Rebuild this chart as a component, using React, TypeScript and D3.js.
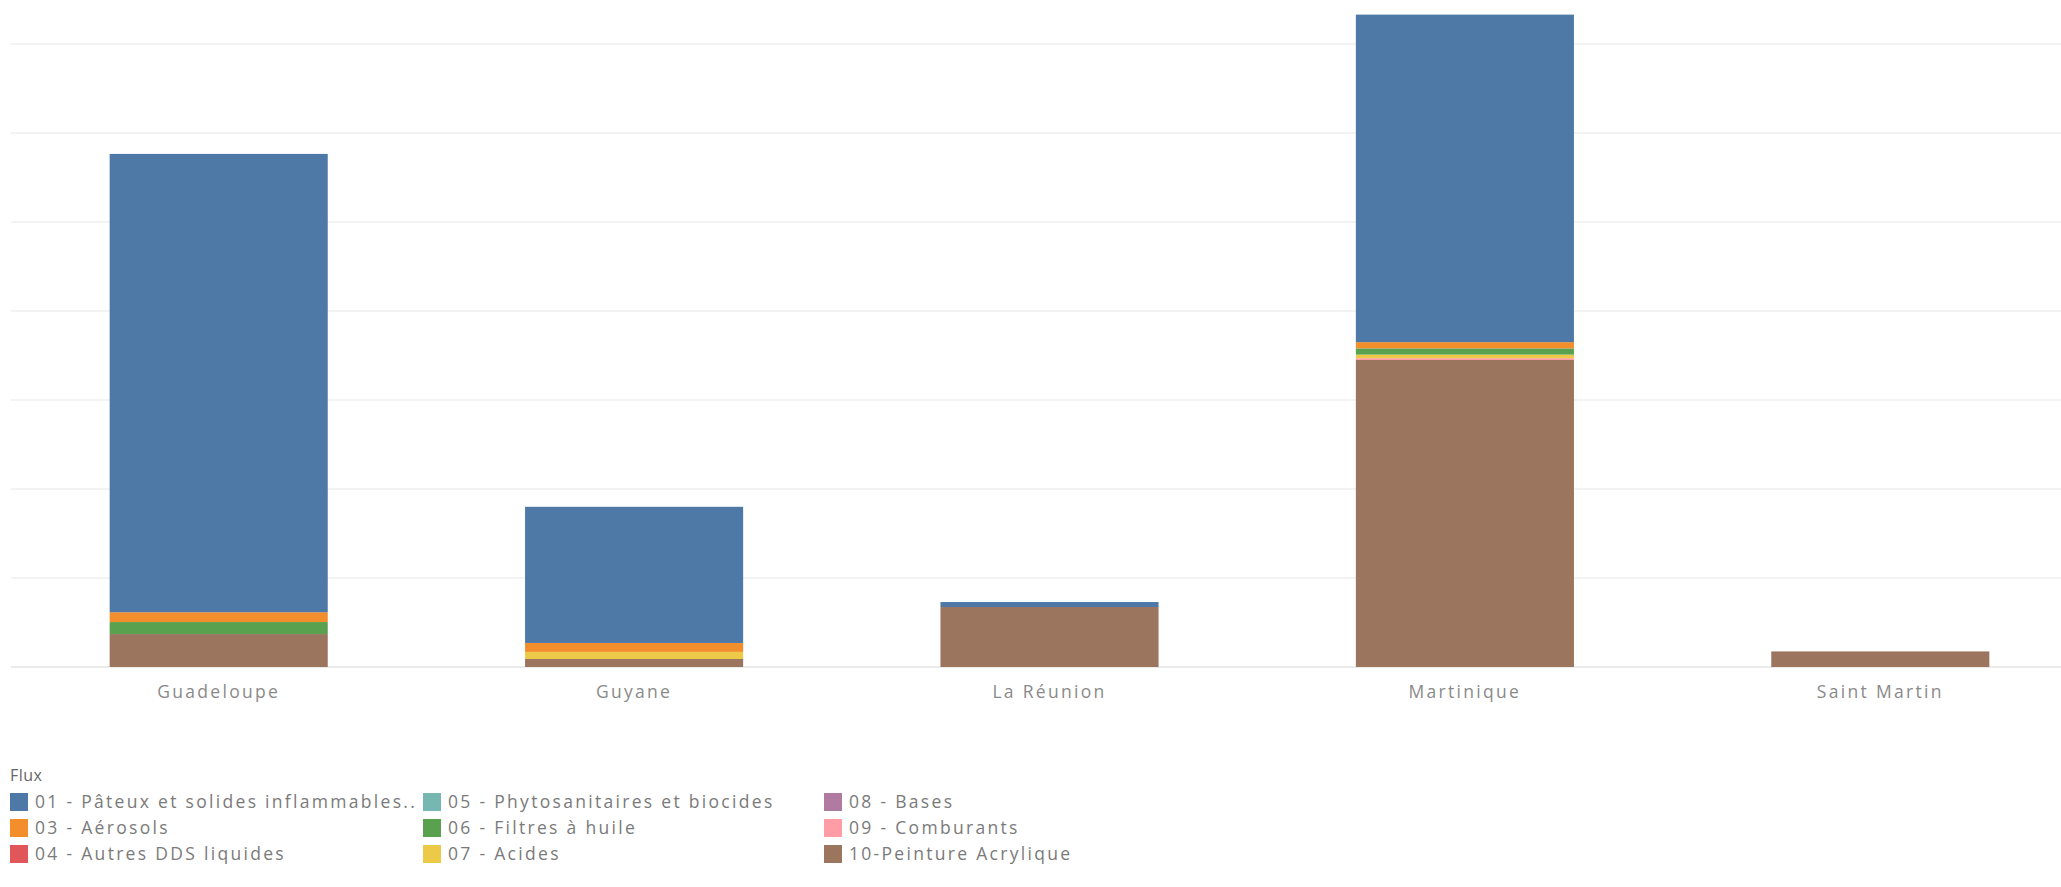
import React from "react";
import * as d3 from "d3";

const categories = ["Guadeloupe", "Guyane", "La Réunion", "Martinique", "Saint Martin"];

const fluxKeys = ["01", "03", "04", "05", "06", "07", "08", "09", "10"];
const fluxLabels = [
  "01 - Pâteux et solides inflammables..",
  "03 - Aérosols",
  "04 - Autres DDS liquides",
  "05 - Phytosanitaires et biocides",
  "06 - Filtres à huile",
  "07 - Acides",
  "08 - Bases",
  "09 - Comburants",
  "10-Peinture Acrylique",
];
const fluxColors = ["#4e79a7", "#f28e2b", "#e15759", "#76b7b2", "#59a14f", "#edc948", "#b07aa1", "#ff9da7", "#9c755f"];

// values per category (Guadeloupe, Guyane, La Réunion, Martinique, Saint Martin)
const flux01 = [5.15, 1.53, 0.056, 3.68, 0];
const flux03 = [0.11, 0.1, 0, 0.07, 0];
const flux04 = [0, 0, 0, 0, 0];
const flux05 = [0, 0, 0, 0, 0];
const flux06 = [0.135, 0, 0, 0.07, 0];
const flux07 = [0, 0.08, 0, 0.04, 0];
const flux08 = [0, 0, 0, 0, 0];
const flux09 = [0, 0, 0, 0.02, 0];
const flux10 = [0.37, 0.09, 0.674, 3.45, 0.175];

const gridTicks = [0, 1, 2, 3, 4, 5, 6, 7];

const seriesValues: Record<string, number[]> = {
  "01": flux01, "03": flux03, "04": flux04, "05": flux05, "06": flux06,
  "07": flux07, "08": flux08, "09": flux09, "10": flux10,
};

export default function App() {
  const W = 2061, H = 887;
  const baseY = 667;
  const unit = 89;
  const x = d3.scaleBand<string>().domain(categories).range([11, 11 + 5 * 415.4]).paddingInner(0.475).paddingOuter(0.2375);
  const y = d3.scaleLinear().domain([0, baseY / unit]).range([baseY, 0]);

  const table = categories.map((c, i) => {
    const row: any = { cat: c };
    fluxKeys.forEach((k) => (row[k] = seriesValues[k][i]));
    return row;
  });
  const stackOrder = [...fluxKeys].reverse();
  const stacked = d3.stack<any>().keys(stackOrder)(table);
  const colorOf = (k: string) => fluxColors[fluxKeys.indexOf(k)];

  const legendCols = [10, 423, 824];
  const legendRows = [802, 828, 854];

  return (
    <svg width={W} height={H} style={{ position: "absolute", left: 0, top: 0, background: "#fff" }}
      fontFamily="'Open Sans', Lato, sans-serif">
      {gridTicks.map((t) => (
        <line key={t} x1={11} x2={W} y1={y(t)} y2={y(t)} stroke={t === 0 ? "#e4e4e4" : "#efefef"} strokeWidth={1.5} />
      ))}
      {stacked.map((s) => (
        <g key={s.key} fill={colorOf(s.key)}>
          {s.map((d, i) => {
            const h = y(d[0]) - y(d[1]);
            if (h <= 0) return null;
            return <rect key={i} x={x(categories[i])} width={x.bandwidth()} y={y(d[1])} height={h} />;
          })}
        </g>
      ))}
      {categories.map((c) => (
        <text key={c} x={(x(c) as number) + x.bandwidth() / 2} y={698} textAnchor="middle" fontSize={17.5} fill="#8a8a8a" letterSpacing={2.3}>
          {c}
        </text>
      ))}
      <text x={10} y={781} fontSize={16} fill="#666" letterSpacing={0.5}>Flux</text>
      {fluxKeys.map((k, i) => {
        const col = Math.floor(i / 3), row = i % 3;
        const lx = legendCols[col], ly = legendRows[row];
        return (
          <g key={k}>
            <rect x={lx} y={ly - 9} width={18} height={18} fill={fluxColors[i]} />
            <text x={lx + 25} y={ly + 6} fontSize={17.5} fill="#7a7a7a" letterSpacing={2.3}>{fluxLabels[i]}</text>
          </g>
        );
      })}
    </svg>
  );
}
